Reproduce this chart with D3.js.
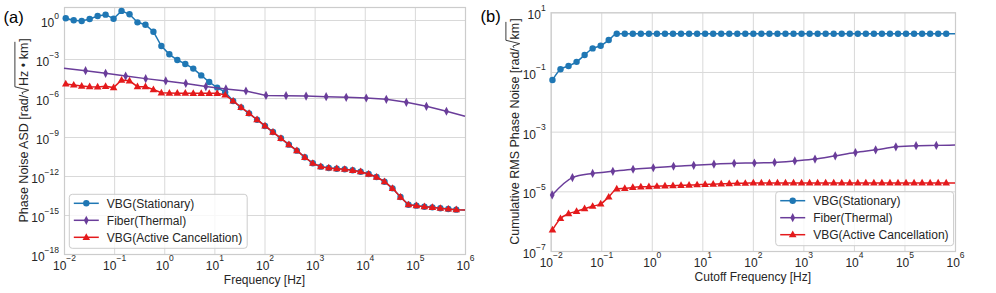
<!DOCTYPE html>
<html><head><meta charset="utf-8">
<script src="https://cdn.jsdelivr.net/npm/d3@7"></script>
<style>
body{margin:0;background:#fff}
svg{display:block}
text{font-family:"Liberation Sans",Arial,sans-serif;}
</style>
</head><body>
<svg id="c" width="996" height="293"></svg>
<script>
// ---------------- DATA (log10 units) ----------------
// marker frequencies (log10 Hz), last entry = line end at 1 MHz
const freqExp = [-1.965,-1.806,-1.647,-1.488,-1.329,-1.170,-1.011,-0.852,-0.693,-0.534,
  -0.375,-0.216,-0.057,0.102,0.261,0.420,0.579,0.738,0.897,1.056,
  1.215,1.374,1.533,1.692,1.851,2.010,2.169,2.328,2.487,2.646,
  2.805,2.964,3.123,3.282,3.441,3.600,3.759,3.918,4.077,4.236,
  4.395,4.554,4.713,4.872,5.031,5.190,5.349,5.508,5.667,5.826,6.0];
const fiberExpA = [-2.0,-1.57,-1.17,-0.77,-0.37,0.03,0.43,0.83,1.23,1.63,2.03,2.43,2.83,3.23,3.63,4.03,4.43,4.83,5.23,5.63,6.0];
const fiberExpB = [-1.97,-1.57,-1.17,-0.77,-0.37,0.03,0.43,0.83,1.23,1.63,2.03,2.43,2.83,3.23,3.63,4.03,4.43,4.83,5.23,5.63,6.0];

// (a) phase noise ASD, log10 rad/sqrt(Hz*km)
const asdStationary = [0.13,-0.02,-0.08,0.08,0.31,0.41,0.1,0.7,0.44,-0.18,
  -0.36,-0.9,-2.0,-2.64,-3.08,-3.38,-3.74,-4.26,-4.77,-5.2,
  -5.55,-6.23,-6.72,-7.18,-7.67,-8.15,-8.62,-9.1,-9.59,-10.05,
  -10.56,-11.02,-11.28,-11.38,-11.44,-11.48,-11.56,-11.67,-11.85,-12.08,
  -12.44,-12.95,-13.62,-14.21,-14.28,-14.36,-14.41,-14.48,-14.54,-14.59,-14.62];
const asdFiber = [-3.72,-3.9,-4.1,-4.31,-4.51,-4.69,-4.88,-5.12,-5.3,-5.46,
  -5.8,-5.82,-5.85,-5.9,-5.95,-6.0,-6.1,-6.33,-6.64,-7.02,-7.41];
const asdCancel = [-4.92,-5.0,-5.08,-5.13,-5.15,-5.1,-5.2,-4.62,-4.68,-5.13,
  -5.13,-5.35,-5.6,-5.62,-5.63,-5.63,-5.64,-5.64,-5.64,-5.64,
  -5.77,-6.23,-6.72,-7.18,-7.67,-8.15,-8.62,-9.1,-9.59,-10.05,
  -10.56,-11.02,-11.28,-11.38,-11.44,-11.48,-11.56,-11.67,-11.85,-12.08,
  -12.44,-12.95,-13.62,-14.21,-14.28,-14.36,-14.41,-14.48,-14.54,-14.59,-14.62];

// (b) cumulative RMS phase noise, log10 rad/sqrt(km)
const rmsStationary = [-1.27,-0.91,-0.8,-0.66,-0.43,-0.21,-0.12,0.07,0.28,0.28,
  0.28,0.28,0.28,0.28,0.28,0.28,0.28,0.28,0.28,0.28,
  0.28,0.28,0.28,0.28,0.28,0.28,0.28,0.28,0.28,0.28,
  0.28,0.28,0.28,0.28,0.28,0.28,0.28,0.28,0.28,0.28,
  0.28,0.28,0.28,0.28,0.28,0.28,0.28,0.28,0.28,0.28,0.28];
const rmsFiber = [-5.12,-4.54,-4.4,-4.33,-4.26,-4.21,-4.16,-4.13,-4.09,-4.06,
  -4.05,-4.03,-3.98,-3.92,-3.81,-3.70,-3.61,-3.51,-3.47,-3.46,-3.45];
const rmsCancel = [-6.29,-5.91,-5.75,-5.67,-5.58,-5.5,-5.42,-5.19,-4.92,-4.9,
  -4.87,-4.85,-4.84,-4.83,-4.82,-4.81,-4.8,-4.79,-4.78,-4.77,
  -4.76,-4.75,-4.74,-4.73,-4.73,-4.72,-4.72,-4.72,-4.72,-4.72,
  -4.72,-4.72,-4.72,-4.72,-4.72,-4.72,-4.72,-4.72,-4.72,-4.72,
  -4.72,-4.72,-4.72,-4.72,-4.72,-4.72,-4.72,-4.72,-4.72,-4.72,-4.72];

const seriesNames = ['VBG(Stationary)','Fiber(Thermal)','VBG(Active Cancellation)'];
const xTickExp = [-2,-1,0,1,2,3,4,5,6];
const yTickExpA = [-18,-15,-12,-9,-6,-3,0];
const yTickExpB = [-7,-5,-3,-1,1];

// ---------------- STYLE ----------------
const colors = ['#1f77b4','#6a3d9a','#e41a1c'];
const markerPath = {
  circle: d3.symbol(d3.symbolCircle, Math.PI*3.2*3.2)(),
  diamond: 'M0,-4.6L2.4,0L0,4.6L-2.4,0Z',
  triangle: 'M0,-4.1L3.8,2.6L-3.8,2.6Z'
};
const markers = ['circle','diamond','triangle'];
const TXT = '#262626', GRID = '#d9d9d9', FRAME = '#cccccc';

const svg = d3.select('#c');
const P = v => Math.pow(10, v);

function supTick(sel, raise){
  sel.each(function(d){
    const e = Math.round(Math.log10(d));
    const t = d3.select(this).text(null);
    t.append('tspan').text('10');
    t.append('tspan').attr('dy', -raise).attr('font-size', 8.5).text(e < 0 ? '\u2212' + (-e) : String(e));
  });
}

function panel(cfg){
  const {x, y} = cfg;
  const [x0, x1] = x.range(), [yb, yt] = y.range();
  const g = svg.append('g');
  const xa = g.append('g').attr('transform', `translate(0,${yb})`)
    .call(d3.axisBottom(x).tickValues(xTickExp.map(P)).tickSize(-(yb - yt)));
  const ya = g.append('g').attr('transform', `translate(${x0},0)`)
    .call(d3.axisLeft(y).tickValues(cfg.yTicks.map(P)).tickSize(-(x1 - x0)));
  [xa, ya].forEach(a => {
    a.select('.domain').remove();
    a.attr('font-family', null).attr('font-size', 12);
    a.selectAll('.tick line').attr('stroke', GRID).attr('stroke-width', 1);
    a.selectAll('.tick text').attr('fill', TXT).attr('dy', null);
  });
  xa.selectAll('.tick text').attr('y', 15.6).call(supTick, 9);
  ya.selectAll('.tick text').attr('x', -5).attr('y', 6.5).call(supTick, 8.5);
  // frame
  g.append('rect').attr('x', x0 + 0.5).attr('y', yt + 0.5).attr('width', x1 - x0).attr('height', yb - yt)
    .attr('fill', 'none').attr('stroke', FRAME).attr('stroke-width', 1.2);

  const plot = g.append('g');
  cfg.series.forEach((s, si) => {
    const pts = s.xs.map((e, i) => [e, s.ys[i], i]);
    const line = d3.line().x(d => x(P(d[0]))).y(d => y(P(d[1]))).curve(cfg.curve);
    plot.append('path').datum(pts).attr('d', line).attr('fill', 'none')
      .attr('stroke', colors[si]).attr('stroke-width', 1.5);
    plot.append('g').selectAll('path').data(pts.filter(d => !s.skip.includes(d[2]))).join('path')
      .attr('d', markerPath[markers[si]])
      .attr('transform', d => `translate(${x(P(d[0]))},${y(P(d[1]))})`)
      .attr('fill', colors[si]);
  });

  // legend
  const L = cfg.legend;
  const lg = g.append('g');
  const box = lg.append('rect').attr('x', L.x).attr('y', L.y).attr('rx', 3).attr('height', 54)
    .attr('fill', '#fff').attr('fill-opacity', 0.8).attr('stroke', FRAME).attr('stroke-width', 1);
  let maxW = 0;
  seriesNames.forEach((n, i) => {
    const ry = L.y + 9 + i * 17;
    lg.append('line').attr('x1', L.x + 4.5).attr('x2', L.x + 29.5).attr('y1', ry).attr('y2', ry)
      .attr('stroke', colors[i]).attr('stroke-width', 1.5);
    lg.append('path').attr('d', markerPath[markers[i]]).attr('transform', `translate(${L.x + 17},${ry})`).attr('fill', colors[i]);
    const t = lg.append('text').attr('x', L.x + 37.5).attr('y', ry + 4.3).attr('font-size', 12).attr('fill', TXT).text(n);
    maxW = Math.max(maxW, t.node().getComputedTextLength());
  });
  box.attr('width', 37.5 + maxW + 5);

  // x label
  g.append('text').attr('x', (x0 + x1) / 2).attr('y', cfg.xLabelY).attr('text-anchor', 'middle')
    .attr('font-size', 12).attr('fill', TXT).text(cfg.xLabel);
  // y label with radical
  yLabel(g, cfg.yLabelX, (yb + yt) / 2, cfg.yPre, cfg.yRad, ']');
  // panel tag
  svg.append('text').attr('x', cfg.tag.x).attr('y', cfg.tag.y).attr('font-size', 16.5).attr('fill', '#000').text(cfg.tag.t);
}

function yLabel(g, bx, cy, pre, rad, post){
  const fs = 12.5;
  const grp = g.append('g').attr('transform', `translate(${bx},${cy}) rotate(-90)`);
  const t1 = grp.append('text').attr('font-size', fs).attr('fill', TXT).text(pre);
  const t2 = grp.append('text').attr('font-size', fs).attr('fill', TXT).text(rad);
  const t3 = grp.append('text').attr('font-size', fs).attr('fill', TXT).text(post);
  const w1 = t1.node().getComputedTextLength(), w2 = t2.node().getComputedTextLength(), w3 = t3.node().getComputedTextLength();
  const rw = 8.5;
  const total = w1 + rw + w2 + 1 + w3;
  const s = -total / 2;
  t1.attr('x', s);
  const r = s + w1 + 0.3;
  t2.attr('x', r + rw);
  t3.attr('x', r + rw + w2 + 1);
  grp.append('path')
    .attr('d', `M${r},${-4.5}L${r + 1.8},${-5.6}L${r + 4.2},${1.2}L${r + 7.6},${-12.6}L${r + rw + w2 + 0.8},${-12.6}`)
    .attr('fill', 'none').attr('stroke', TXT).attr('stroke-width', 0.9);
}

panel({
  x: d3.scaleLog().domain([1e-2, 1e6]).range([64, 465]),
  y: d3.scaleLog().domain([1e-18, 1e1]).range([254, 7]),
  yTicks: yTickExpA,
  curve: d3.curveLinear,
  series: [
    {xs: freqExp, ys: asdStationary, skip: [50]},
    {xs: fiberExpA, ys: asdFiber, skip: [0, 20]},
    {xs: freqExp, ys: asdCancel, skip: [50]}
  ],
  legend: {x: 69.3, y: 194.3},
  xLabel: 'Frequency [Hz]', xLabelY: 283.5,
  yLabelX: 27.5, yPre: 'Phase Noise ASD [rad/', yRad: 'Hz \u2022 km',
  tag: {t: '(a)', x: 3.5, y: 22.5}
});

panel({
  x: d3.scaleLog().domain([1e-2, 1e6]).range([550.7, 955]),
  y: d3.scaleLog().domain([1e-7, 1e1]).range([251, 12.3]),
  yTicks: yTickExpB,
  curve: d3.curveMonotoneX,
  series: [
    {xs: freqExp, ys: rmsStationary, skip: [50]},
    {xs: fiberExpB, ys: rmsFiber, skip: [20]},
    {xs: freqExp, ys: rmsCancel, skip: [50]}
  ],
  legend: {x: 775.7, y: 191.7},
  xLabel: 'Cutoff Frequency [Hz]', xLabelY: 281,
  yLabelX: 518.5, yPre: 'Cumulative RMS Phase Noise [rad/', yRad: 'km',
  tag: {t: '(b)', x: 480.5, y: 21.5}
});
</script>
</body></html>
